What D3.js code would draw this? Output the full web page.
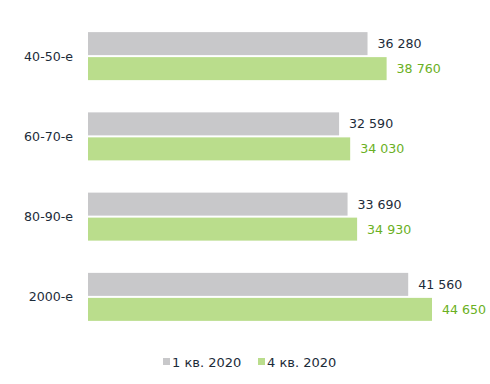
<!DOCTYPE html>
<html>
<head>
<meta charset="utf-8">
<script src="https://cdn.jsdelivr.net/npm/d3@7.9.0/dist/d3.min.js"></script>
<style>
  body { margin: 0; background: #fff; }
  svg text { font-family: "DejaVu Sans", Verdana, sans-serif; }
</style>
</head>
<body>
<svg id="chart" width="490" height="384"></svg>
<script>
const categories = ['40-50-е', '60-70-е', '80-90-е', '2000-е'];
const seriesNames = ['1 кв. 2020', '4 кв. 2020'];
const q1Values = [36280, 32590, 33690, 41560];
const q4Values = [38760, 34030, 34930, 44650];

const colors = ['#c8c8ca', '#badd8c'];
const labelColors = ['#1c2b39', '#6ab023'];

const svg = d3.select('#chart');

const x = d3.scaleLinear().domain([0, 44650]).range([88, 432]);
const y = d3.scaleBand().domain(categories).range([16, 337]).paddingInner(0).paddingOuter(0);
const barH = 23;
const gap = 2;

// category labels
svg.append('g')
  .selectAll('text')
  .data(categories)
  .enter()
  .append('text')
  .attr('x', 73)
  .attr('y', (d) => y(d) + y.bandwidth() / 2)
  .attr('dy', '0.35em')
  .attr('text-anchor', 'end')
  .attr('font-size', 12.6)
  .attr('fill', '#1c2b39')
  .text((d) => d);

const series = [q1Values, q4Values];
const fmt = (v) => d3.format(',')(v).replace(/,/g, ' ');

series.forEach((vals, s) => {
  const top = (d, i) => y(categories[i]) + y.bandwidth() / 2 - barH - gap / 2 + s * (barH + gap);
  const g = svg.append('g');
  g.selectAll('rect')
    .data(vals)
    .enter()
    .append('rect')
    .attr('x', x(0))
    .attr('y', top)
    .attr('width', (d) => x(d) - x(0))
    .attr('height', barH)
    .attr('fill', colors[s]);

  g.selectAll('text')
    .data(vals)
    .enter()
    .append('text')
    .attr('x', (d) => x(d) + 10)
    .attr('y', (d, i) => top(d, i) + barH / 2)
    .attr('dy', '0.35em')
    .attr('font-size', 12.6)
    .attr('fill', labelColors[s])
    .text(fmt);
});

// legend
const legendX = [163, 258];
const legend = svg.append('g');
seriesNames.forEach((name, i) => {
  legend.append('rect')
    .attr('x', legendX[i])
    .attr('y', 358)
    .attr('width', 7)
    .attr('height', 7)
    .attr('fill', colors[i]);
  legend.append('text')
    .attr('x', legendX[i] + 9)
    .attr('y', 362)
    .attr('dy', '0.35em')
    .attr('font-size', 13)
    .attr('fill', '#1c2b39')
    .text(name);
});
</script>
</body>
</html>
